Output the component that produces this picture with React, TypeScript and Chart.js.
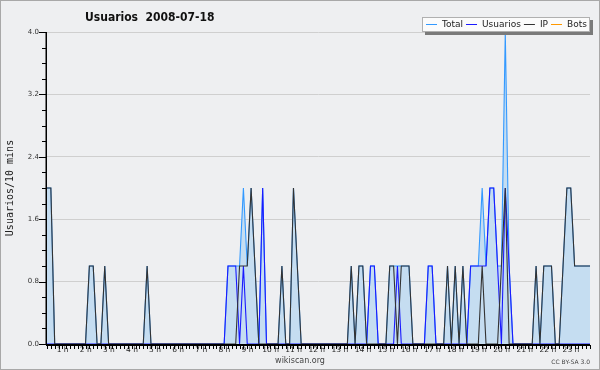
import React, { useEffect, useRef } from 'react';
import { Chart, registerables } from 'chart.js';

Chart.register(...registerables);

const TITLE = 'Usuarios  2008-07-18';
const Y_TITLE = 'Usuarios/10 mins';
const FOOTER = 'wikiscan.org';
const LICENSE = 'CC BY-SA 3.0';

const seriesNames = ['Total', 'Usuarios', 'IP', 'Bots'];
const seriesColors = ['#3399ff', '#1a1aff', '#333333', '#ff9900'];

const hourLabels = ['1 h', '2 h', '3 h', '4 h', '5 h', '6 h', '7 h', '8 h', '9 h', '10 h', '11 h', '12 h',
  '13 h', '14 h', '15 h', '16 h', '17 h', '18 h', '19 h', '20 h', '21 h', '22 h', '23 h'];

// 10-minute slots, 00:00 .. 23:30
const categories: string[] = [];
for (let i = 0; i < 142; i++) {
  const m = i * 10;
  categories.push(String(Math.floor(m / 60)).padStart(2, '0') + ':' + String(m % 60).padStart(2, '0'));
}

const total = [
  2, 2, 0, 0, 0, 0, 0, 0, 0, 0, 0, 1,
  1, 0, 0, 1, 0, 0, 0, 0, 0, 0, 0, 0,
  0, 0, 1, 0, 0, 0, 0, 0, 0, 0, 0, 0,
  0, 0, 0, 0, 0, 0, 0, 0, 0, 0, 0, 1,
  1, 1, 1, 2, 1, 2, 1, 0, 2, 0, 0, 0,
  0, 1, 0, 0, 2, 1, 0, 0, 0, 0, 0, 0,
  0, 0, 0, 0, 0, 0, 0, 1, 0, 1, 1, 0,
  1, 1, 0, 0, 0, 1, 1, 1, 1, 1, 1, 0,
  0, 0, 0, 1, 1, 0, 0, 0, 1, 0, 1, 0,
  1, 0, 1, 1, 1, 2, 1, 2, 2, 1, 1, 4,
  1, 0, 0, 0, 0, 0, 0, 1, 0, 1, 1, 1,
  0, 0, 1, 2, 2, 1, 1, 1, 1, 1,
];

const usuarios = [
  0, 0, 0, 0, 0, 0, 0, 0, 0, 0, 0, 0,
  0, 0, 0, 0, 0, 0, 0, 0, 0, 0, 0, 0,
  0, 0, 0, 0, 0, 0, 0, 0, 0, 0, 0, 0,
  0, 0, 0, 0, 0, 0, 0, 0, 0, 0, 0, 1,
  1, 1, 0, 1, 0, 0, 0, 0, 2, 0, 0, 0,
  0, 0, 0, 0, 0, 0, 0, 0, 0, 0, 0, 0,
  0, 0, 0, 0, 0, 0, 0, 0, 0, 0, 0, 0,
  1, 1, 0, 0, 0, 0, 0, 1, 0, 0, 0, 0,
  0, 0, 0, 1, 1, 0, 0, 0, 0, 0, 0, 0,
  0, 0, 1, 1, 1, 1, 1, 2, 2, 1, 0, 2,
  1, 0, 0, 0, 0, 0, 0, 0, 0, 0, 0, 0,
  0, 0, 0, 0, 0, 0, 0, 0, 0, 0,
];

const ip = [
  2, 2, 0, 0, 0, 0, 0, 0, 0, 0, 0, 1,
  1, 0, 0, 1, 0, 0, 0, 0, 0, 0, 0, 0,
  0, 0, 1, 0, 0, 0, 0, 0, 0, 0, 0, 0,
  0, 0, 0, 0, 0, 0, 0, 0, 0, 0, 0, 0,
  0, 0, 1, 1, 1, 2, 1, 0, 0, 0, 0, 0,
  0, 1, 0, 0, 2, 1, 0, 0, 0, 0, 0, 0,
  0, 0, 0, 0, 0, 0, 0, 1, 0, 1, 1, 0,
  0, 0, 0, 0, 0, 1, 1, 0, 1, 1, 1, 0,
  0, 0, 0, 0, 0, 0, 0, 0, 1, 0, 1, 0,
  1, 0, 0, 0, 0, 1, 0, 0, 0, 0, 1, 2,
  0, 0, 0, 0, 0, 0, 0, 1, 0, 1, 1, 1,
  0, 0, 1, 2, 2, 1, 1, 1, 1, 1,
];

const bots = [
  0, 0, 0, 0, 0, 0, 0, 0, 0, 0, 0, 0,
  0, 0, 0, 0, 0, 0, 0, 0, 0, 0, 0, 0,
  0, 0, 0, 0, 0, 0, 0, 0, 0, 0, 0, 0,
  0, 0, 0, 0, 0, 0, 0, 0, 0, 0, 0, 0,
  0, 0, 0, 0, 0, 0, 0, 0, 0, 0, 0, 0,
  0, 0, 0, 0, 0, 0, 0, 0, 0, 0, 0, 0,
  0, 0, 0, 0, 0, 0, 0, 0, 0, 0, 0, 0,
  0, 0, 0, 0, 0, 0, 0, 0, 0, 0, 0, 0,
  0, 0, 0, 0, 0, 0, 0, 0, 0, 0, 0, 0,
  0, 0, 0, 0, 0, 0, 0, 0, 0, 0, 0, 0,
  0, 0, 0, 0, 0, 0, 0, 0, 0, 0, 0, 0,
  0, 0, 0, 0, 0, 0, 0, 0, 0, 0,
];

const Y_MAX = 4;
const Y_MINOR = 0.2;
const Y_MAJOR = 0.8;

const isMajor = (v: number) => Math.abs(v / Y_MAJOR - Math.round(v / Y_MAJOR)) < 1e-6;

const decorPlugin = {
  id: 'decor',
  beforeDraw(chart: any) {
    const ctx = chart.ctx;
    ctx.save();
    ctx.fillStyle = '#eeeff1';
    ctx.fillRect(0, 0, chart.width, chart.height);
    ctx.strokeStyle = '#a8a8a8';
    ctx.lineWidth = 1;
    ctx.strokeRect(0.5, 0.5, chart.width - 1, chart.height - 1);
    ctx.restore();
  },
  afterDatasetsDraw(chart: any) {
    const ctx = chart.ctx;
    const a = chart.chartArea;
    const xs = chart.scales.x;
    const ys = chart.scales.y;
    ctx.save();
    ctx.strokeStyle = '#000';
    // axes
    ctx.lineWidth = 2;
    ctx.beginPath();
    ctx.moveTo(a.left - 1, a.bottom + 1);
    ctx.lineTo(a.right, a.bottom + 1);
    ctx.stroke();
    ctx.lineWidth = 1.5;
    ctx.beginPath();
    ctx.moveTo(a.left - 0.75, a.top);
    ctx.lineTo(a.left - 0.75, a.bottom + 1);
    ctx.stroke();
    // y ticks
    ctx.lineWidth = 1;
    ctx.beginPath();
    for (let k = 0; k <= Math.round(Y_MAX / Y_MINOR); k++) {
      const v = k * Y_MINOR;
      const py = Math.round(ys.getPixelForValue(v)) + 0.5;
      const len = isMajor(v) ? 7 : 4;
      ctx.moveTo(a.left - 1 - len, py);
      ctx.lineTo(a.left - 1, py);
    }
    // x ticks
    for (let i = 0; i < categories.length; i++) {
      const px = Math.round(xs.getPixelForValue(i)) + 0.5;
      ctx.moveTo(px, a.bottom + 1);
      ctx.lineTo(px, a.bottom + 5);
    }
    ctx.stroke();

    // title
    ctx.fillStyle = '#111';
    ctx.font = 'bold 12px "DejaVu Sans Condensed", "DejaVu Sans", sans-serif';
    ctx.textAlign = 'left';
    ctx.textBaseline = 'alphabetic';
    ctx.fillText(TITLE, 85, 21);

    // y title
    ctx.save();
    ctx.translate(10, 188);
    ctx.rotate(-Math.PI / 2);
    ctx.font = '10px "DejaVu Sans Mono", monospace';
    ctx.fillStyle = '#222';
    ctx.textAlign = 'center';
    ctx.textBaseline = 'middle';
    ctx.fillText(Y_TITLE, 0, 0);
    ctx.restore();

    // footer
    ctx.font = '8px "DejaVu Sans", sans-serif';
    ctx.fillStyle = '#444';
    ctx.textAlign = 'center';
    ctx.textBaseline = 'middle';
    ctx.fillText(FOOTER, 300, 361);
    ctx.font = '6px "DejaVu Sans", sans-serif';
    ctx.textAlign = 'right';
    ctx.fillText(LICENSE, 590, 362);

    // legend
    const bx = 422, by = 17, bw = 168, bh = 15;
    ctx.fillStyle = '#7a7a7a';
    ctx.fillRect(bx + 3, by + 3, bw, bh);
    ctx.fillStyle = '#fbfbfb';
    ctx.fillRect(bx, by, bw, bh);
    ctx.strokeStyle = '#b0b0b0';
    ctx.lineWidth = 1;
    ctx.strokeRect(bx + 0.5, by + 0.5, bw - 1, bh - 1);
    ctx.font = '9px "DejaVu Sans", sans-serif';
    ctx.textAlign = 'left';
    ctx.textBaseline = 'middle';
    let cx = bx + 4;
    const cy = by + bh / 2 + 0.5;
    for (let s = 0; s < seriesNames.length; s++) {
      ctx.strokeStyle = seriesColors[s];
      ctx.lineWidth = 1;
      ctx.beginPath();
      ctx.moveTo(cx, Math.round(cy) - 0.5);
      ctx.lineTo(cx + 11, Math.round(cy) - 0.5);
      ctx.stroke();
      cx += 16;
      ctx.fillStyle = '#222';
      ctx.fillText(seriesNames[s], cx, cy);
      cx += ctx.measureText(seriesNames[s]).width + 3;
    }
    ctx.restore();
  },
};

export default function App() {
  const ref = useRef<HTMLCanvasElement | null>(null);

  useEffect(() => {
    document.body.style.margin = '0';
    const canvas = ref.current;
    if (!canvas) return;
    const lineDs = (label: string, data: number[], color: string, order: number, extra: any = {}) => ({
      label,
      data,
      borderColor: color,
      backgroundColor: color,
      borderWidth: 1.1,
      pointRadius: 0,
      tension: 0,
      fill: false,
      order,
      ...extra,
    });
    const chart = new Chart(canvas, {
      type: 'line',
      data: {
        labels: categories,
        datasets: [
          lineDs(seriesNames[0], total, seriesColors[0], 3, { fill: 'origin', backgroundColor: '#c5ddf1' }),
          lineDs(seriesNames[1], usuarios, seriesColors[1], 2),
          lineDs(seriesNames[2], ip, seriesColors[2], 1),
          lineDs(seriesNames[3], bots, seriesColors[3], 4),
        ],
      },
      options: {
        responsive: false,
        animation: false,
        devicePixelRatio: 1,
        layout: { padding: { top: 32, right: 10, left: 0, bottom: 0 } },
        plugins: {
          legend: { display: false },
          tooltip: { enabled: false },
          title: { display: false },
        },
        scales: {
          x: {
            type: 'category',
            offset: false,
            grid: { display: false, drawTicks: false },
            border: { display: false },
            ticks: {
              autoSkip: false,
              maxRotation: 0,
              minRotation: 0,
              padding: 2,
              labelOffset: -7.5,
              font: { family: '"DejaVu Sans", sans-serif', size: 7.5 },
              color: '#222',
              callback: (_v: any, idx: number) => (idx > 0 && idx % 6 === 0 ? hourLabels[idx / 6 - 1] || '' : ''),
            },
            afterFit: (s: any) => { s.height = 26; },
          },
          y: {
            min: 0,
            max: Y_MAX,
            grid: {
              drawTicks: false,
              color: (c: any) => (c.tick && c.tick.value > 0 && isMajor(c.tick.value) ? '#cfcfcf' : 'rgba(0,0,0,0)'),
              lineWidth: 1,
            },
            border: { display: false },
            ticks: {
              stepSize: Y_MINOR,
              autoSkip: false,
              padding: 8,
              font: { family: '"DejaVu Sans", sans-serif', size: 7 },
              color: '#333',
              callback: (v: any) => (isMajor(Number(v)) ? Number(v).toFixed(1) : ''),
            },
            afterFit: (s: any) => { s.width = 47; },
          },
        },
      },
      plugins: [decorPlugin],
    });
    return () => chart.destroy();
  }, []);

  return (
    <div style={{ width: 600, height: 370 }}>
      <canvas ref={ref} width={600} height={370} style={{ display: 'block' }} />
    </div>
  );
}
